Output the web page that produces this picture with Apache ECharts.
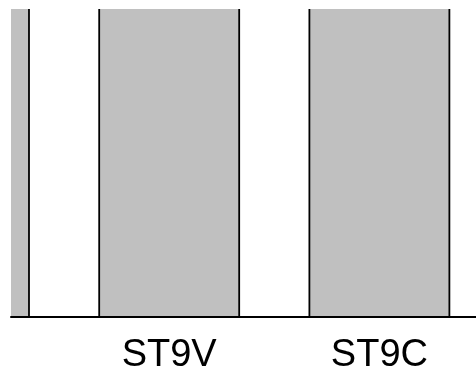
<!DOCTYPE html>
<html>
<head>
<meta charset="utf-8">
<script src="https://cdn.jsdelivr.net/npm/echarts@6/dist/echarts.min.js"></script>
<style>
html,body{margin:0;padding:0;background:#fff;}
#chart{width:476px;height:378px;}
</style>
</head>
<body>
<div id="chart"></div>
<script>
// Category positions (index on the x scale) and their labels
var categories = ['', 'ST9V', 'ST9C'];
var positions = [0, 1, 2];
// Bar heights (all bars run past the visible top of the plot)
var values = [120, 125, 122];
// Visible y range
var yRange = [0, 100];
// Labelled positions
var labelPositions = [1, 2];

var BAR_W = 0.666;

var data = positions.map(function (p, i) { return [p, values[i]]; });

var chart = echarts.init(document.getElementById('chart'), null, {renderer: 'canvas'});

function renderItem(params, api) {
  var x = api.value(0), v = api.value(1);
  var base = api.coord([x, 0]);
  var top = api.coord([x, v]);
  var half = api.size([BAR_W, 0])[0] / 2;
  var cs = params.coordSys;
  var x0 = base[0] - half, x1 = base[0] + half;
  var cx0 = Math.max(x0, cs.x), cx1 = Math.min(x1, cs.x + cs.width);
  var cy0 = Math.max(top[1], cs.y), cy1 = base[1];
  if (cx1 <= cx0) return null;
  var children = [{
    type: 'rect',
    shape: {x: cx0, y: cy0, width: cx1 - cx0, height: cy1 - cy0},
    style: {fill: '#c0c0c0'}
  }];
  var lineStyle = {stroke: '#000', lineWidth: 1.8};
  if (x0 >= cs.x) children.push({type: 'line', shape: {x1: x0, y1: cy0, x2: x0, y2: cy1}, style: lineStyle});
  if (x1 <= cs.x + cs.width) children.push({type: 'line', shape: {x1: x1, y1: cy0, x2: x1, y2: cy1}, style: lineStyle});
  if (top[1] >= cs.y) children.push({type: 'line', shape: {x1: x0, y1: top[1], x2: x1, y2: top[1]}, style: lineStyle});
  return {type: 'group', children: children};
}

chart.setOption({
  animation: false,
  backgroundColor: '#fff',
  grid: {left: 11, right: 0, top: 9, bottom: 61, containLabel: false},
  xAxis: {
    type: 'value',
    min: 0.2474,
    max: 2.4596,
    z: 5,
    splitLine: {show: false},
    axisLine: {show: true, lineStyle: {color: '#000', width: 2}},
    axisTick: {show: false},
    axisLabel: {
      customValues: labelPositions,
      margin: 20,
      color: '#000',
      fontSize: 38,
      fontFamily: '"Liberation Sans", Arial, sans-serif',
      formatter: function (val) { return categories[Math.round(val)]; }
    }
  },
  yAxis: {
    type: 'value',
    min: yRange[0],
    max: yRange[1],
    show: false,
    splitLine: {show: false}
  },
  series: [{
    type: 'custom',
    renderItem: renderItem,
    clip: true,
    encode: {x: 0, y: 1},
    data: data
  }]
});
</script>
</body>
</html>
